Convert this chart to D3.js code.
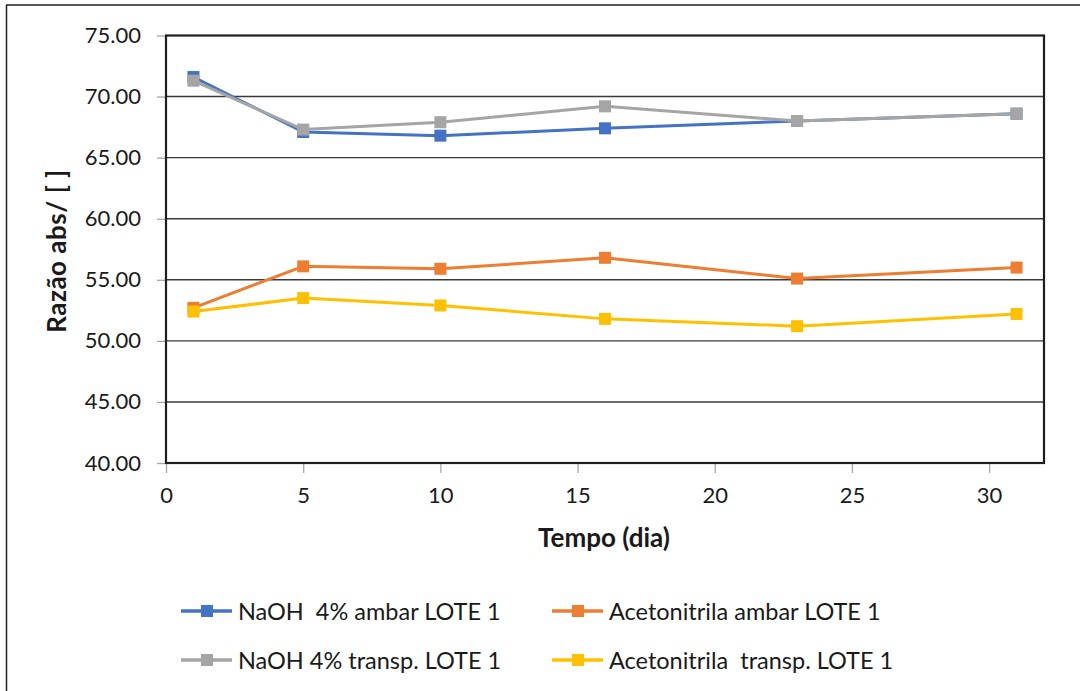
<!DOCTYPE html>
<html><head><meta charset="utf-8">
<script src="https://cdn.jsdelivr.net/npm/d3@7/dist/d3.min.js"></script>
<style>
html,body{margin:0;padding:0;background:#fff;}
text{font-family:Lato,"Open Sans",sans-serif;fill:#1a1a1a;}
</style></head><body>
<svg id="c" width="1080" height="691"></svg>
<script>
const days = [1, 5, 10, 16, 23, 31];
const naohAmbar = [71.6, 67.1, 66.8, 67.4, 68.0, 68.6];
const naohTransp = [71.3, 67.3, 67.9, 69.2, 68.0, 68.6];
const acetoAmbar = [52.7, 56.1, 55.9, 56.8, 55.1, 56.0];
const acetoTransp = [52.4, 53.5, 52.9, 51.8, 51.2, 52.2];
const seriesNames = ["NaOH  4% ambar LOTE 1", "Acetonitrila ambar LOTE 1", "NaOH 4% transp. LOTE 1", "Acetonitrila  transp. LOTE 1"];
const seriesColors = ["#4472C4", "#ED7D31", "#A5A5A5", "#FFC000"];
const yTicks = [40, 45, 50, 55, 60, 65, 70, 75];
const xTicks = [0, 5, 10, 15, 20, 25, 30];

const series = [
  {name: seriesNames[0], color: seriesColors[0], values: naohAmbar},
  {name: seriesNames[1], color: seriesColors[1], values: acetoAmbar},
  {name: seriesNames[2], color: seriesColors[2], values: naohTransp},
  {name: seriesNames[3], color: seriesColors[3], values: acetoTransp}
];
const drawOrder = [0, 1, 2, 3];

const svg = d3.select("#c");
const L = 166, R = 1044, T = 35.5, B = 463;
const x = d3.scaleLinear().domain([0, 32]).range([L, R]);
const y = d3.scaleLinear().domain([40, 75]).range([B, T]);

// outer border (top and left)
svg.append("line").attr("x1", 6).attr("x2", 1080).attr("y1", 5).attr("y2", 5).attr("stroke", "#222").attr("stroke-width", 1.5);
svg.append("line").attr("x1", 6.5).attr("x2", 6.5).attr("y1", 5).attr("y2", 691).attr("stroke", "#222").attr("stroke-width", 1.5);

// gridlines
svg.append("g").selectAll("line").data(yTicks.filter(d => d > 40 && d < 75)).join("line")
  .attr("x1", L).attr("x2", R).attr("y1", d => y(d)).attr("y2", d => y(d))
  .attr("stroke", "#3a3a3a").attr("stroke-width", 1.4);

// y axis
const yAxis = d3.axisLeft(y).tickValues(yTicks).tickFormat(d3.format(".2f")).tickSize(9).tickPadding(16);
const gy = svg.append("g").attr("transform", `translate(${L},0)`).call(yAxis);
gy.select(".domain").remove();
gy.selectAll(".tick line").attr("stroke", "#a6a6a6").attr("stroke-width", 1.3);
gy.selectAll(".tick text").style("font-size", "22px").attr("fill", "#1a1a1a");

// x axis
const xAxis = d3.axisBottom(x).tickValues(xTicks).tickSize(10).tickPadding(14);
const gx = svg.append("g").attr("transform", `translate(0,${B})`).call(xAxis);
gx.select(".domain").remove();
gx.selectAll(".tick line").attr("stroke", "#a6a6a6").attr("stroke-width", 1.3);
gx.selectAll(".tick text").style("font-size", "22px").attr("fill", "#1a1a1a");

// plot frame
svg.append("rect").attr("x", L).attr("y", T).attr("width", R - L).attr("height", B - T)
  .attr("fill", "none").attr("stroke", "#1e1e1e").attr("stroke-width", 2.2);

// lines and markers
const line = d3.line().x((d, i) => x(days[i])).y(d => y(d));
drawOrder.forEach(k => {
  const s = series[k];
  svg.append("path").datum(s.values).attr("d", line)
    .attr("fill", "none").attr("stroke", s.color).attr("stroke-width", 3).attr("stroke-linejoin", "round");
  svg.append("g").selectAll("rect").data(s.values).join("rect")
    .attr("x", (d, i) => x(days[i]) - 6).attr("y", d => y(d) - 6)
    .attr("width", 12).attr("height", 12).attr("fill", s.color);
});

// axis titles
svg.append("text").attr("x", 604).attr("y", 547).attr("text-anchor", "middle")
  .style("font-size", "26px").style("font-weight", "bold").text("Tempo (dia)");
svg.append("text").attr("transform", `translate(66,251) rotate(-90)`).attr("text-anchor", "middle")
  .style("font-size", "26px").style("font-weight", "bold").style("letter-spacing", "0.5px").text("Razão abs/ [ ]");

// legend
const legPos = [[181, 611], [552, 611], [181, 660], [552, 660]];
series.forEach((s, k) => {
  const [lx, ly] = legPos[k];
  const g = svg.append("g").attr("transform", `translate(${lx},${ly})`);
  g.append("line").attr("x1", 0).attr("x2", 51).attr("y1", 0).attr("y2", 0).attr("stroke", s.color).attr("stroke-width", 3.5);
  g.append("rect").attr("x", 20).attr("y", -6).attr("width", 12).attr("height", 12).attr("fill", s.color);
  g.append("text").attr("x", 57).attr("y", 8.5).style("font-size", "23.5px").style("white-space", "pre")
    .attr("xml:space", "preserve").text(s.name);
});
</script>
</body></html>
